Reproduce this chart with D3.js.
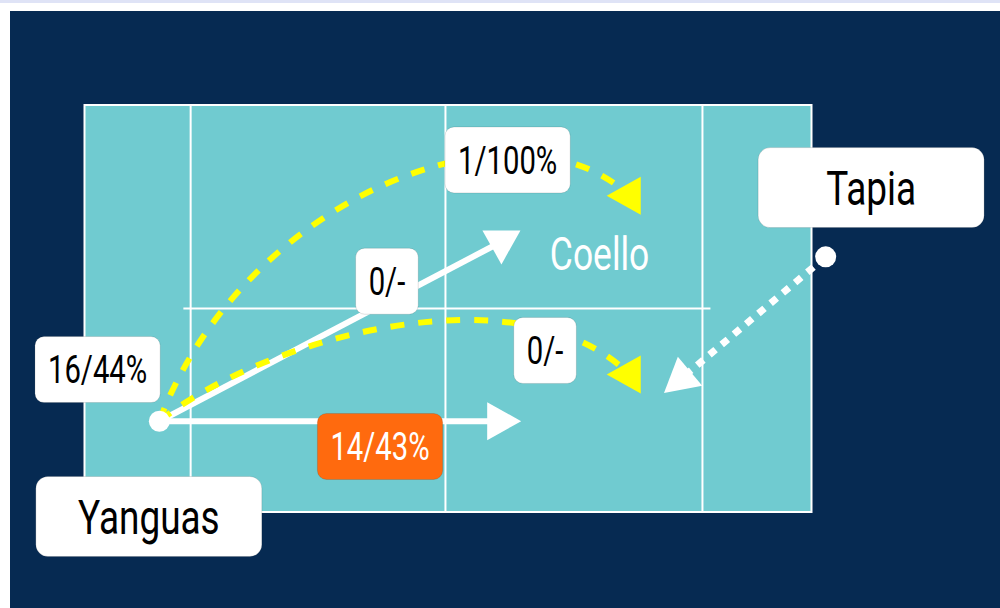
<!DOCTYPE html>
<html lang="en">
<head>
  <meta charset="UTF-8">
  <title>Padel shot map</title>
  <script src="https://d3js.org/d3.v7.min.js"></script>
  <style>
    body { margin: 0; background: #fff; }
    text { font-family: Roboto, "DejaVu Sans Condensed", sans-serif; }
  </style>
</head>
<body>
  <svg width="1000" height="608"></svg>

  <script>
    // court in metres (20 x 10)
    const courtLines = [2.92, 9.93, 17.0];      // service lines + net
    const centreLine = [2.72, 17.22];           // x extent of centre service line

    // players: position on court and name box centre
    const playerNames = ["Yanguas", "Tapia"];
    const playerPos   = [[2.06, 7.77], [20.39, 3.73]];
    const playerBox   = [[1.77, 10.11], [21.64, 2.03]];

    // partner name (no box)
    const partnerName = "Coello";
    const partnerPos = [14.17, 4.05];

    // shots: from player, end point, curve controls (for lobs), kind, head direction (deg)
    const shotFrom  = ["Yanguas", "Yanguas", "Yanguas", "Yanguas", "Tapia"];
    const shotTo    = [[11.39, 7.77], [11.47, 3.36], [14.99, 2.23], [14.99, 6.62], [16.42, 6.72]];
    const shotCurve = [null, null, [[4.4, 2.2], [11.97, -0.34]], [[4.81, 5.78], [11.97, 3.95]], null];
    const shotKind  = ["drive", "drive", "lob", "lob", "dotted"];
    const shotHead  = [0, 90, 180, 180, 140];

    // stat labels
    const statText = ["16/44%", "14/43%", "1/100%", "0/-", "0/-"];
    const statPos  = [[0.36, 6.50], [8.13, 8.39], [11.64, 1.35], [8.32, 4.33], [12.67, 6.03]];
    const statHot  = [false, true, false, false, false];

    const squeeze = 0.77;   // condensed look

    const svg = d3.select("svg");
    const x = d3.scaleLinear().domain([0, 20]).range([84.5, 811.5]);
    const y = d3.scaleLinear().domain([0, 10]).range([105, 512]);

    // page frame
    svg.append("rect").attr("width", 1000).attr("height", 3).attr("fill", "#dfe3f6");
    svg.append("rect").attr("x", 10).attr("y", 11).attr("width", 990).attr("height", 597).attr("fill", "#062a52");

    // court
    svg.append("rect")
        .attr("x", x(0)).attr("y", y(0))
        .attr("width", x(20) - x(0)).attr("height", y(10) - y(0))
        .attr("fill", "#70cbd0").attr("stroke", "#fff").attr("stroke-width", 2);

    svg.selectAll("line.court")
        .data(courtLines)
        .enter().append("line")
        .attr("class", "court")
        .attr("x1", d => x(d)).attr("x2", d => x(d))
        .attr("y1", y(0)).attr("y2", y(10))
        .attr("stroke", "#fff").attr("stroke-width", 2);

    svg.append("line")
        .attr("x1", x(centreLine[0])).attr("x2", x(centreLine[1]))
        .attr("y1", y(5)).attr("y2", y(5))
        .attr("stroke", "#fff").attr("stroke-width", 2);

    svg.append("g")
        .attr("transform", `translate(${x(partnerPos[0])},${y(partnerPos[1])}) scale(${squeeze},1)`)
      .append("text")
        .attr("text-anchor", "middle")
        .attr("fill", "#fff").attr("font-size", 46)
        .text(partnerName);

    // shots
    const shots = shotFrom.map((p, i) => ({
      from: playerPos[playerNames.indexOf(p)],
      to: shotTo[i], curve: shotCurve[i], kind: shotKind[i], head: shotHead[i]
    }));

    function shotPath(d) {
      const p = d3.path();
      p.moveTo(x(d.from[0]), y(d.from[1]));
      if (d.curve) {
        const [c1, c2] = d.curve;
        p.bezierCurveTo(x(c1[0]), y(c1[1]), x(c2[0]), y(c2[1]), x(d.to[0]), y(d.to[1]));
      } else {
        p.lineTo(x(d.to[0]), y(d.to[1]));
      }
      return p.toString();
    }

    const colour = k => k === "lob" ? "#ffff00" : "#fff";
    const order = ["dotted", "drive", "lob"];
    const sorted = shots.slice().sort((a, b) => order.indexOf(a.kind) - order.indexOf(b.kind));

    const shotG = svg.append("g").selectAll("g")
        .data(sorted)
        .enter().append("g");

    shotG.append("path")
        .attr("d", shotPath)
        .attr("fill", "none")
        .attr("stroke", d => colour(d.kind))
        .attr("stroke-width", d => d.kind === "dotted" ? 7 : 6)
        .attr("stroke-dasharray", d => d.kind === "lob" ? "14,14" : d.kind === "dotted" ? "8,8" : null);

    // arrowhead: triangle centred on the end point, pointing along d.head
    const headLen = 34, headHalf = 19;
    shotG.append("path")
        .attr("d", "M" + (2 * headLen / 3) + ",0L" + (-headLen / 3) + "," + (-headHalf) + "L" + (-headLen / 3) + "," + headHalf + "Z")
        .attr("transform", d => `translate(${x(d.to[0])},${y(d.to[1])}) rotate(${d.head})`)
        .attr("fill", d => colour(d.kind));

    // player dots
    svg.selectAll("circle.player")
        .data(playerPos)
        .enter().append("circle")
        .attr("class", "player")
        .attr("cx", d => x(d[0])).attr("cy", d => y(d[1]))
        .attr("r", 10.5)
        .attr("fill", "#fff");

    // stat labels
    const stat = svg.selectAll("g.stat")
        .data(statText.map((t, i) => ({ text: t, pos: statPos[i], hot: statHot[i] })))
        .enter().append("g")
        .attr("class", "stat")
        .attr("transform", d => `translate(${x(d.pos[0])},${y(d.pos[1])})`);

    stat.append("rect")
        .attr("rx", 9)
        .attr("fill", d => d.hot ? "#ff6a0e" : "#fff")
        .attr("stroke", "rgba(0,0,0,0.12)").attr("stroke-width", 1);

    stat.append("text")
        .attr("text-anchor", "middle")
        .attr("dy", "0.36em")
        .attr("transform", `scale(${squeeze},1)`)
        .attr("font-size", 38)
        .attr("fill", d => d.hot ? "#fff" : "#000")
        .text(d => d.text);

    stat.each(function() {
      const g = d3.select(this);
      const w = g.select("text").node().getComputedTextLength() * squeeze + 26;
      g.select("rect").attr("x", -w / 2).attr("y", -33).attr("width", w).attr("height", 66);
    });

    // player name boxes
    const names = svg.selectAll("g.name")
        .data(playerNames.map((n, i) => ({ name: n, pos: playerBox[i] })))
        .enter().append("g")
        .attr("class", "name")
        .attr("transform", d => `translate(${x(d.pos[0])},${y(d.pos[1])})`);

    names.append("rect")
        .attr("x", -113).attr("y", -40)
        .attr("width", 226).attr("height", 80)
        .attr("rx", 12)
        .attr("fill", "#fff")
        .attr("stroke", "rgba(0,0,0,0.12)").attr("stroke-width", 1);

    names.append("text")
        .attr("text-anchor", "middle")
        .attr("dy", "0.36em")
        .attr("transform", `scale(${squeeze},1)`)
        .attr("font-size", 48)
        .attr("fill", "#000")
        .text(d => d.name);
  </script>
</body>
</html>
